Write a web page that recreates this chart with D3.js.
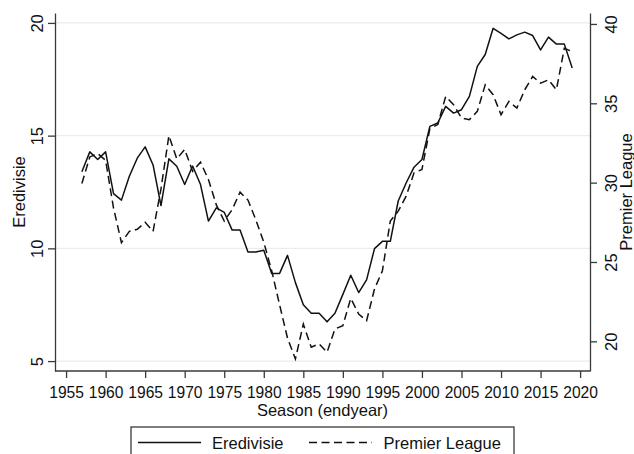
<!DOCTYPE html>
<html>
<head>
<meta charset="utf-8">
<script src="https://cdn.jsdelivr.net/npm/d3@7"></script>
<style>
  body { margin: 0; background: #fff; }
  svg { display: block; font-family: "Liberation Sans", Arial, sans-serif; }
</style>
</head>
<body>
<svg id="chart" width="634" height="454"></svg>
<script>
var years = [1957, 1958, 1959, 1960, 1961, 1962, 1963, 1964, 1965, 1966,
  1967, 1968, 1969, 1970, 1971, 1972, 1973, 1974, 1975, 1976,
  1977, 1978, 1979, 1980, 1981, 1982, 1983, 1984, 1985, 1986,
  1987, 1988, 1989, 1990, 1991, 1992, 1993, 1994, 1995, 1996,
  1997, 1998, 1999, 2000, 2001, 2002, 2003, 2004, 2005, 2006,
  2007, 2008, 2009, 2010, 2011, 2012, 2013, 2014, 2015, 2016,
  2017, 2018, 2019];
var eredivisie = [13.4, 14.28, 13.94, 14.28, 12.43, 12.14, 13.2, 14.0, 14.5, 13.7,
  11.9, 13.97, 13.64, 12.83, 13.65, 12.83, 11.21, 11.8, 11.6, 10.81,
  10.81, 9.84, 9.84, 9.92, 8.89, 8.89, 9.69, 8.48, 7.5, 7.12,
  7.12, 6.74, 7.12, 7.96, 8.81, 8.04, 8.6, 9.99, 10.31, 10.31,
  12.1, 12.9, 13.6, 13.94, 15.41, 15.56, 16.3, 16.0, 16.15, 16.74,
  18.07, 18.6, 19.76, 19.54, 19.29, 19.47, 19.59, 19.44, 18.8, 19.37,
  19.06, 19.06, 18.0];
var premierLeague = [29.95, 31.62, 31.83, 31.41, 28.4, 26.22, 26.93, 27.06, 27.5, 26.93,
  29.6, 32.96, 31.5, 32.09, 30.72, 31.29, 30.2, 28.6, 27.58, 28.3,
  29.4, 28.9, 27.65, 26.25, 24.45, 22.3, 20.2, 18.89, 21.09, 19.63,
  19.84, 19.31, 20.78, 20.99, 22.71, 21.72, 21.3, 23.3, 24.44, 27.58,
  28.2, 29.15, 30.62, 30.83, 33.4, 33.66, 35.43, 34.91, 34.07, 33.97,
  34.49, 36.17, 35.54, 34.28, 35.12, 34.7, 35.85, 36.69, 36.27, 36.48,
  35.85, 38.47, 38.26];
var xTicks = [1955, 1960, 1965, 1970, 1975, 1980, 1985, 1990, 1995, 2000, 2005, 2010, 2015, 2020];
var leftTicks = [5, 10, 15, 20];
var rightTicks = [20, 25, 30, 35, 40];
var seriesNames = ['Eredivisie', 'Premier League'];

var svg = d3.select('#chart');
var box = { left: 55, right: 590, top: 13, bottom: 371 };
var fontSize = '16.5px', axisColor = '#3a3a3a';

var x = d3.scaleLinear().domain([1953.6, 2021.25]).range([box.left, box.right]);
var yl = d3.scaleLinear().domain([4.56, 20.44]).range([box.bottom, box.top]);
var yr = d3.scaleLinear().domain([18.13, 40.69]).range([box.bottom, box.top]);

// grid from the left axis
svg.append('g').selectAll('line').data(leftTicks).enter().append('line')
  .attr('x1', box.left).attr('x2', box.right)
  .attr('y1', function(d){ return yl(d); }).attr('y2', function(d){ return yl(d); })
  .attr('stroke', '#e6eef1').attr('stroke-width', 1.4);

function styleAxis(g){
  g.select('.domain').attr('stroke', axisColor).attr('stroke-width', 1.3);
  g.selectAll('.tick line').attr('stroke', axisColor).attr('stroke-width', 1.3);
  g.selectAll('.tick text').attr('fill', '#111').style('font-size', fontSize);
}

var gl = svg.append('g').attr('transform', 'translate(' + box.left + ',0)')
  .call(d3.axisLeft(yl).tickValues(leftTicks).tickSize(7).tickSizeOuter(0));
styleAxis(gl);
gl.selectAll('.tick text').attr('transform', 'rotate(-90)')
  .attr('x', 0).attr('y', -12).attr('dy', 0).attr('text-anchor', 'middle');

var gr = svg.append('g').attr('transform', 'translate(' + box.right + ',0)')
  .call(d3.axisRight(yr).tickValues(rightTicks).tickSize(7).tickSizeOuter(0));
styleAxis(gr);
gr.selectAll('.tick text').attr('transform', 'rotate(-90)')
  .attr('x', 0).attr('y', 27).attr('dy', 0).attr('text-anchor', 'middle');

var gb = svg.append('g').attr('transform', 'translate(0,' + box.bottom + ')')
  .call(d3.axisBottom(x).tickValues(xTicks).tickFormat(d3.format('d')).tickSize(7).tickSizeOuter(0));
styleAxis(gb);
gb.select('.domain').attr('d', 'M' + box.left + ',0H' + box.right);
// year labels sit almost edge to edge, slightly narrower than the rest
gb.selectAll('.tick text').attr('y', 26.5).attr('dy', 0).style('font-size', '15.6px');

// titles
svg.append('text').attr('transform', 'translate(25,' + (box.top + box.bottom) / 2 + ') rotate(-90)')
  .attr('text-anchor', 'middle').style('font-size', fontSize).attr('fill', '#111').text('Eredivisie');
svg.append('text').attr('transform', 'translate(632,' + (box.top + box.bottom) / 2 + ') rotate(-90)')
  .attr('text-anchor', 'middle').style('font-size', fontSize).attr('fill', '#111').text('Premier League');
svg.append('text').attr('x', (box.left + box.right) / 2).attr('y', 415.5)
  .attr('text-anchor', 'middle').style('font-size', fontSize).attr('fill', '#111').text('Season (endyear)');

// lines
var lineL = d3.line().x(function(d, i){ return x(years[i]); }).y(function(d){ return yl(d); });
var lineR = d3.line().x(function(d, i){ return x(years[i]); }).y(function(d){ return yr(d); });
svg.append('path').datum(eredivisie).attr('d', lineL)
  .attr('fill', 'none').attr('stroke', '#111').attr('stroke-width', 1.5).attr('stroke-linejoin', 'round');
svg.append('path').datum(premierLeague).attr('d', lineR)
  .attr('fill', 'none').attr('stroke', '#111').attr('stroke-width', 1.5).attr('stroke-dasharray', '8,4.5');

// legend
var lg = svg.append('g');
lg.append('rect').attr('x', 131).attr('y', 427).attr('width', 383).attr('height', 40)
  .attr('fill', '#fff').attr('stroke', axisColor).attr('stroke-width', 1.3);
var items = [
  { name: seriesNames[0], x1: 138, x2: 201, tx: 212, dash: null },
  { name: seriesNames[1], x1: 309, x2: 372, tx: 383.5, dash: '8,4.5' }
];
items.forEach(function(it){
  lg.append('line').attr('x1', it.x1).attr('x2', it.x2).attr('y1', 442.5).attr('y2', 442.5)
    .attr('stroke', '#111').attr('stroke-width', 1.5).attr('stroke-dasharray', it.dash);
  lg.append('text').attr('x', it.tx).attr('y', 448.5).style('font-size', fontSize)
    .attr('fill', '#111').text(it.name);
});
</script>
</body>
</html>
